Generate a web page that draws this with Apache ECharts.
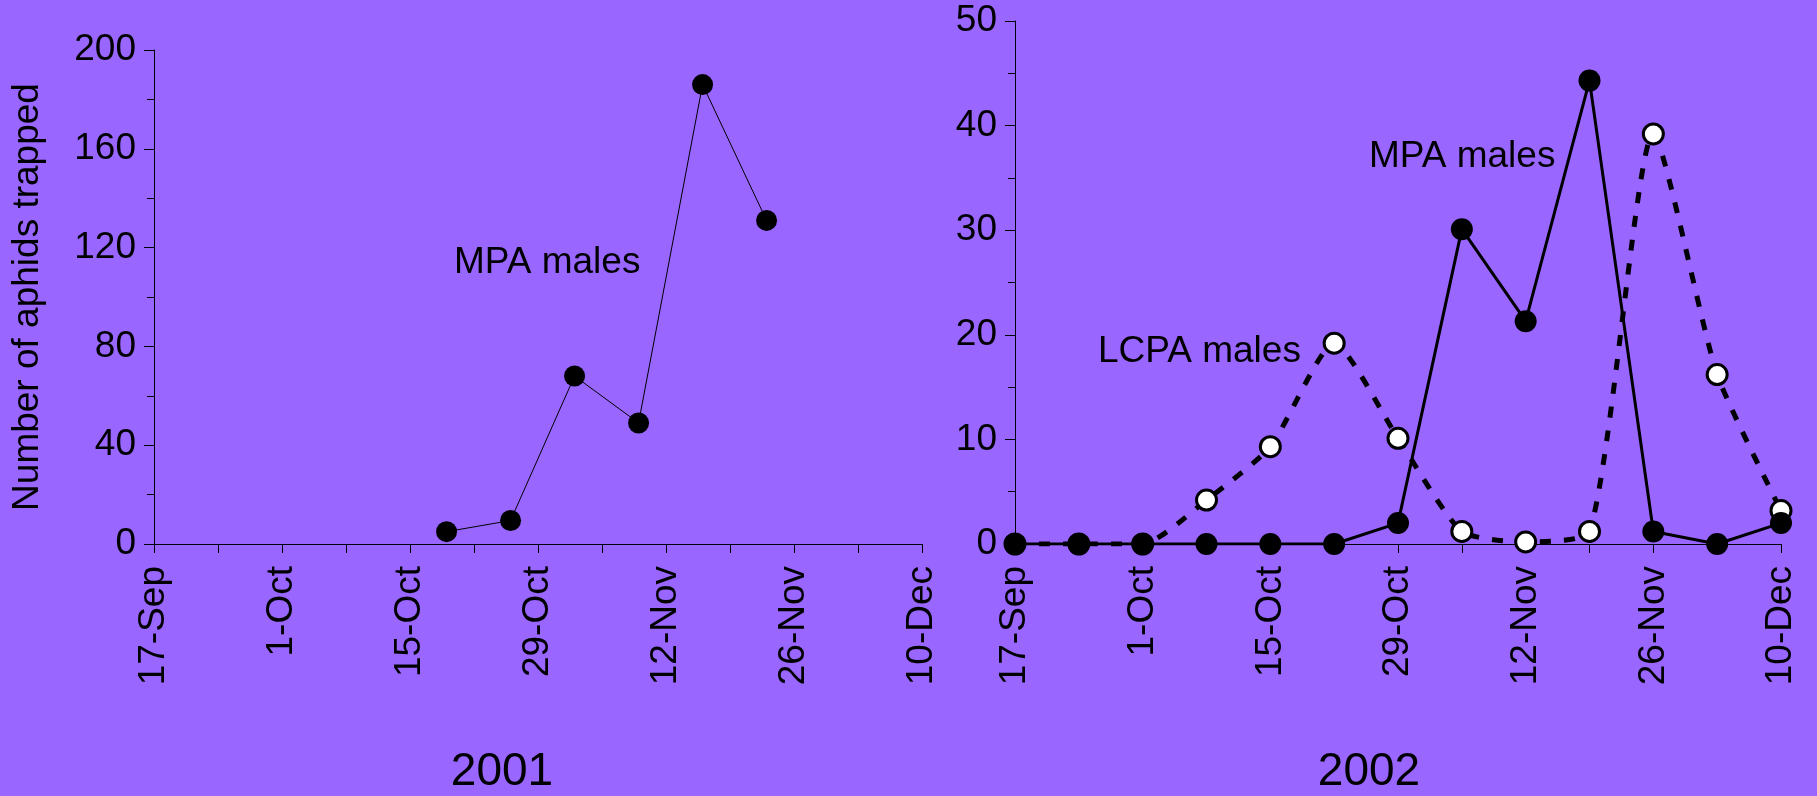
<!DOCTYPE html>
<html>
<head>
<meta charset="utf-8">
<title>Aphids trapped 2001 / 2002</title>
<script src="https://cdn.jsdelivr.net/npm/echarts@6/dist/echarts.min.js"></script>
<style>
    html, body { margin: 0; padding: 0; background: #9966ff; }
    #main { width: 1817px; height: 796px; }
</style>
</head>
<body>
<div id="main"></div>
<script>
    // labels on every second weekly tick (same for both years)
    var xTickLabels = ['17-Sep', '1-Oct', '15-Oct', '29-Oct', '12-Nov', '26-Nov', '10-Dec'];

    // 2001
    var dates2001 = ['2001-10-19', '2001-10-26', '2001-11-02', '2001-11-09', '2001-11-16', '2001-11-23'];
    var mpa2001 = [5, 9.5, 68, 49, 186, 131];

    // 2002
    var dates2002 = ['2002-09-17', '2002-09-24', '2002-10-01', '2002-10-08', '2002-10-15', '2002-10-22', '2002-10-29',
        '2002-11-05', '2002-11-12', '2002-11-19', '2002-11-26', '2002-12-03', '2002-12-10'];
    var mpa2002 = [0, 0, 0, 0, 0, 0, 2, 30.1, 21.3, 44.3, 1.2, 0, 2];
    var lcpa2002 = [0, 0, 0, 4.2, 9.3, 19.2, 10.1, 1.2, 0.2, 1.2, 39.2, 16.2, 3.2];

    var FONT = "'Liberation Sans', Arial, sans-serif";
    var FS = 37;

    // days after 17-Sep of the same year
    function dayOf(s) {
        var p = s.split('-');
        var t = Date.UTC(+p[0], +p[1] - 1, +p[2]);
        var t0 = Date.UTC(+p[0], 8, 17);
        return Math.round((t - t0) / 86400000);
    }
    function pairs(dates, vals) {
        var out = [];
        for (var i = 0; i < dates.length; i++) {
            out.push([dayOf(dates[i]), vals[i]]);
        }
        return out;
    }

    function xAxisFor(gridIndex) {
        return {
            type: 'value',
            gridIndex: gridIndex,
            min: 0,
            max: 84,
            interval: 7,
            axisLine: { show: true, onZero: false, lineStyle: { color: '#000', width: 1 } },
            axisTick: { show: true, length: 9, lineStyle: { color: '#000', width: 1 } },
            splitLine: { show: false },
            axisLabel: {
                rotate: 90,
                margin: 22,
                color: '#000',
                fontSize: FS,
                fontFamily: FONT,
                formatter: function (v) {
                    return v % 14 === 0 ? xTickLabels[v / 14] : '';
                }
            }
        };
    }

    function yAxisFor(gridIndex, max, interval) {
        return {
            type: 'value',
            gridIndex: gridIndex,
            min: 0,
            max: max,
            interval: interval,
            axisLine: { show: true, lineStyle: { color: '#000', width: 1 } },
            axisTick: { show: true, length: 10, lineStyle: { color: '#000', width: 1 } },
            minorTick: { show: true, splitNumber: 2, length: 7, lineStyle: { color: '#000', width: 1 } },
            splitLine: { show: false },
            minorSplitLine: { show: false },
            axisLabel: { margin: 18, color: '#000', fontSize: FS, fontFamily: FONT }
        };
    }

    var myChart = echarts.init(document.getElementById('main'));

    var yLeft = yAxisFor(0, 200, 40);
    yLeft.name = 'Number of aphids trapped';
    yLeft.nameLocation = 'middle';
    yLeft.nameRotate = 90;
    yLeft.nameGap = 108;
    yLeft.nameTextStyle = { color: '#000', fontSize: FS, fontFamily: FONT };

    var option = {
        backgroundColor: '#9966ff',
        animation: false,
        grid: [
            { left: 154, top: 50, width: 768, bottom: 252 },
            { left: 1015, top: 21, width: 766, bottom: 252 }
        ],
        xAxis: [xAxisFor(0), xAxisFor(1)],
        yAxis: [yLeft, yAxisFor(1, 50, 10)],
        graphic: [
            { type: 'text', left: 454, top: 244, style: { text: 'MPA males', font: FS + 'px ' + FONT, fill: '#000' } },
            { type: 'text', left: 1369, top: 138, style: { text: 'MPA males', font: FS + 'px ' + FONT, fill: '#000' } },
            { type: 'text', left: 1098, top: 333, style: { text: 'LCPA males', font: FS + 'px ' + FONT, fill: '#000' } },
            { type: 'text', x: 502, y: 772, style: { text: '2001', font: '46px ' + FONT, fill: '#000', textAlign: 'center', textVerticalAlign: 'middle' } },
            { type: 'text', x: 1369, y: 772, style: { text: '2002', font: '46px ' + FONT, fill: '#000', textAlign: 'center', textVerticalAlign: 'middle' } }
        ],
        series: [
            {
                name: 'MPA males 2001',
                type: 'line',
                xAxisIndex: 0,
                yAxisIndex: 0,
                symbol: 'circle',
                symbolSize: 21,
                itemStyle: { color: '#000' },
                lineStyle: { color: '#000', width: 1 },
                data: pairs(dates2001, mpa2001)
            },
            {
                name: 'LCPA males 2002',
                type: 'line',
                xAxisIndex: 1,
                yAxisIndex: 1,
                smooth: 0.2,
                symbol: 'circle',
                symbolSize: 20,
                itemStyle: { color: '#fff', borderColor: '#000', borderWidth: 3 },
                lineStyle: { color: '#000', width: 5, type: [11, 13] },
                z: 2,
                data: pairs(dates2002, lcpa2002)
            },
            {
                name: 'MPA males 2002',
                type: 'line',
                xAxisIndex: 1,
                yAxisIndex: 1,
                symbol: 'circle',
                symbolSize: 22,
                itemStyle: { color: '#000' },
                lineStyle: { color: '#000', width: 3 },
                z: 3,
                data: pairs(dates2002, mpa2002)
            }
        ]
    };
    myChart.setOption(option);
</script>
</body>
</html>
